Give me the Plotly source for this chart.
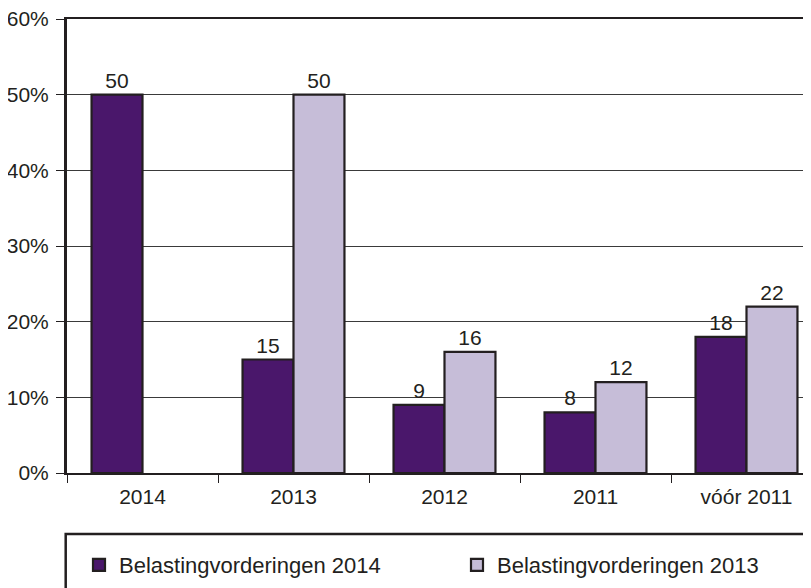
import plotly.graph_objects as go

categories = ["2014", "2013", "2012", "2011", "vóór 2011"]
series_2014 = [50, 15, 9, 8, 18]
series_2013 = [None, 50, 16, 12, 22]
series_names = ["Belastingvorderingen 2014", "Belastingvorderingen 2013"]
y_ticks = [0, 10, 20, 30, 40, 50, 60]
y_tick_labels = ["0%", "10%", "20%", "30%", "40%", "50%", "60%"]

dark = "#4a176b"
light = "#c6bdd8"
ink = "#231f20"
font_family = "Liberation Sans, Arial, sans-serif"

# the page body adds an 8px offset; figure coordinates below are page - 8
W, H = 803, 580
ml, mr, mt, mb = 59, 0, 11, 115
plot_w = W - ml - mr
plot_h = H - mt - mb
cat_w = 151.0
x_hi = -0.5 + plot_w / cat_w

fig = go.Figure()
legend_ids = ["legend", "legend2"]
for name, vals, col, lg in [(series_names[0], series_2014, dark, legend_ids[0]),
                            (series_names[1], series_2013, light, legend_ids[1])]:
    fig.add_trace(go.Bar(
        x=categories, y=vals, name=name, legend=lg,
        marker=dict(color=col, line=dict(color=ink, width=2.2)),
        text=[("" if v is None else str(v)) for v in vals],
        textposition="outside", cliponaxis=False,
        textfont=dict(size=21, color=ink, family=font_family),
    ))

leg_y = (465 - 557) / plot_h
leg_common = dict(
    orientation="h", yanchor="middle", y=leg_y, xanchor="left",
    font=dict(size=22, color=ink, family=font_family),
    bgcolor="rgba(0,0,0,0)", borderwidth=0,
)

fig.update_layout(
    width=W, height=H,
    margin=dict(l=ml, r=mr, t=mt, b=mb, pad=0, autoexpand=False),
    paper_bgcolor="white", plot_bgcolor="white",
    barmode="group", bargap=0.325, bargroupgap=0,
    font=dict(family=font_family, size=21, color=ink),
    showlegend=True,
    legend=dict(x=(71 - ml) / plot_w, **leg_common),
    legend2=dict(x=(449 - ml) / plot_w, **leg_common),
    xaxis=dict(
        type="category", range=[-0.5, x_hi],
        showline=True, linecolor=ink, linewidth=2, mirror=True,
        ticks="outside", tickson="boundaries", ticklen=8, tickwidth=1.3, tickcolor=ink,
        showgrid=False, tickfont=dict(size=21, color=ink),
        ticklabelstandoff=4, ticklabeloverflow="allow",
    ),
    yaxis=dict(
        range=[0, 60], tickvals=y_ticks, ticktext=y_tick_labels,
        showline=True, linecolor=ink, linewidth=3,
        ticks="outside", ticklen=8, tickwidth=1.3, tickcolor=ink,
        showgrid=True, gridcolor="#3a3a3a", gridwidth=1,
        zeroline=False, tickfont=dict(size=21, color=ink),
        ticklabelstandoff=3, ticklabeloverflow="allow",
    ),
)

# legend frame
fig.add_shape(type="rect", xref="paper", yref="paper",
              x0=-1.3 / plot_w, x1=1.05, y0=-0.5, y1=(465 - 526) / plot_h,
              line=dict(color=ink, width=2.5), fillcolor="rgba(0,0,0,0)", layer="below")

fig.write_html("out.html")
